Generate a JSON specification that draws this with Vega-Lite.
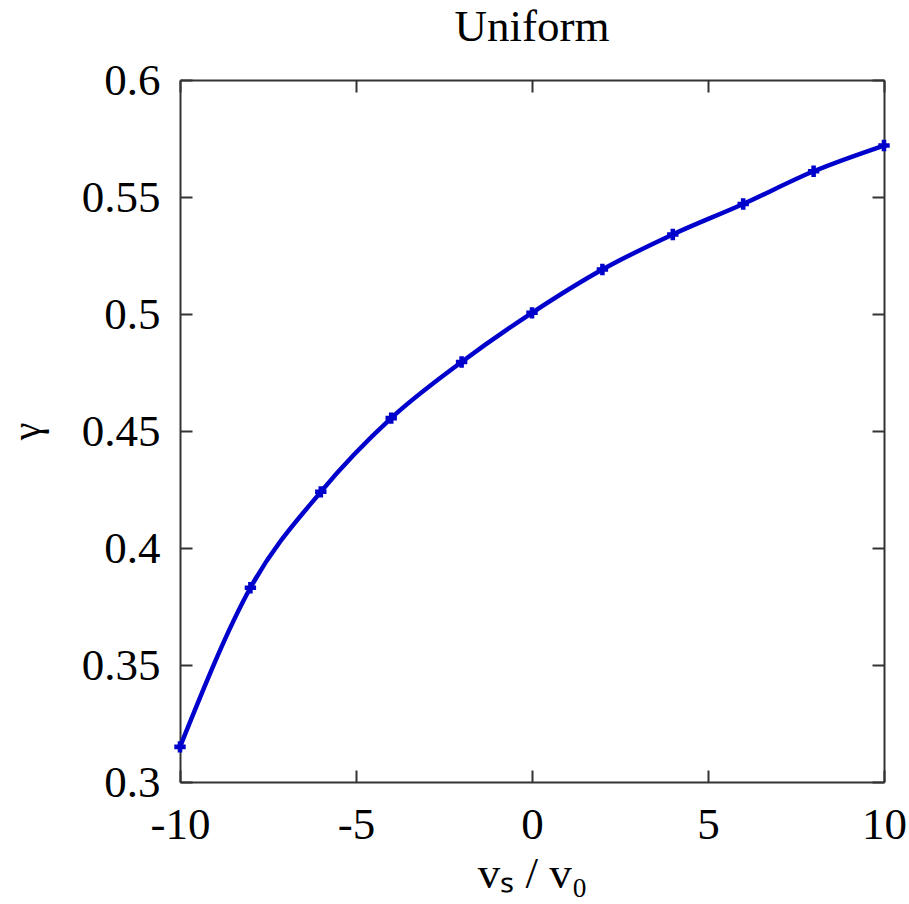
{
  "$schema": "https://vega.github.io/schema/vega-lite/v6.json",
  "autosize": "none",
  "width": 704,
  "height": 702,
  "padding": {"left": 180, "top": 80, "right": 25, "bottom": 122},
  "background": "white",
  "title": {"text": "Uniform", "font": "Liberation Serif", "fontSize": 45, "fontWeight": "normal", "color": "black", "offset": 8, "anchor": "middle"},
  "config": {
    "view": {"stroke": null},
    "axis": {"labelFont": "Liberation Serif", "titleFont": "Liberation Serif", "labelFontSize": 45, "titleFontSize": 45, "titleFontWeight": "normal", "labelColor": "black", "titleColor": "black", "domainColor": "#333333", "domainWidth": 2, "tickColor": "#333333", "tickWidth": 2, "tickSize": -12, "grid": false}
  },
  "data": {"values": [
    {"x": -10, "y": 0.315},
    {"x": -8, "y": 0.383},
    {"x": -6, "y": 0.424},
    {"x": -4, "y": 0.4555},
    {"x": -2, "y": 0.4795},
    {"x": 0, "y": 0.5005},
    {"x": 2, "y": 0.519},
    {"x": 4, "y": 0.534},
    {"x": 6, "y": 0.547},
    {"x": 8, "y": 0.561},
    {"x": 10, "y": 0.572}
  ]},
  "resolve": {"axis": {"x": "independent", "y": "independent"}},
  "layer": [
    {
      "mark": {"type": "line", "color": "#0000cc", "strokeWidth": 4.5, "interpolate": "monotone", "point": {"shape": "cross", "size": 130, "filled": true, "color": "#0000cc"}},
      "encoding": {
        "x": {"field": "x", "type": "quantitative", "scale": {"domain": [-10, 10], "nice": false, "zero": false}, "axis": {"values": [-10, -5, 0, 5, 10], "labelExpr": "toString(datum.value)", "title": "vₛ / v₀", "labelPadding": 32, "titlePadding": 4, "labelFlush": false}},
        "y": {"field": "y", "type": "quantitative", "scale": {"domain": [0.3, 0.6], "nice": false, "zero": false}, "axis": {"values": [0.3, 0.35, 0.4, 0.45, 0.5, 0.55, 0.6], "format": "~g", "title": "γ", "titleFontSize": 40, "labelPadding": 32, "titlePadding": 34, "labelFlush": false}}
      }
    },
    {
      "mark": {"type": "point", "opacity": 0},
      "encoding": {
        "x": {"field": "x", "type": "quantitative", "scale": {"domain": [-10, 10], "nice": false, "zero": false}, "axis": {"orient": "top", "values": [-10, -5, 0, 5, 10], "labels": false, "title": null}},
        "y": {"field": "y", "type": "quantitative", "scale": {"domain": [0.3, 0.6], "nice": false, "zero": false}, "axis": {"orient": "right", "values": [0.3, 0.35, 0.4, 0.45, 0.5, 0.55, 0.6], "labels": false, "title": null}}
      }
    }
  ]
}
